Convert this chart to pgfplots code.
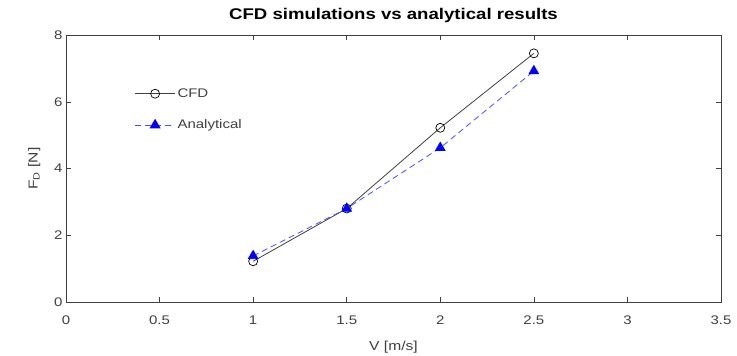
\documentclass[border=0pt]{standalone}
\usepackage{pgfplots}
\pgfplotsset{compat=1.18}
\usepackage{fontspec}
\setmainfont[FakeStretch=1.2]{Liberation Sans}
\definecolor{axgray}{gray}{0.25}
\definecolor{mblue}{rgb}{0,0,1}
\begin{document}
\begin{tikzpicture}
\begin{axis}[
  scale only axis,
  width=655pt, height=267pt,
  xmin=0, xmax=3.5, ymin=0, ymax=8,
  xtick={0,0.5,...,3.5},
  ytick={0,2,4,6,8},
  xticklabels={0,0.5,1,1.5,2,2.5,3,3.5},
  tick align=inside,
  major tick length=5pt,
  axis line style={axgray, line width=0.7pt},
  tick style={axgray, line width=0.5pt},
  ticklabel style={font=\fontsize{12.5}{14}\selectfont, text=axgray},
  xticklabel style={yshift=-10pt},
  /pgf/number format/assume math mode=true,
  xlabel={V [m/s]},
  ylabel={F\textsubscript{D} [N]},
  xlabel style={font=\fontsize{13}{15}\selectfont, text=axgray, yshift=-10pt},
  ylabel style={font=\fontsize{13}{15}\selectfont, text=axgray, yshift=7pt},
  title={\textbf{CFD simulations vs analytical results}},
  title style={font=\fontsize{15.5}{17}\selectfont, yshift=3pt},
  legend style={draw=none, fill=none, at={(0.1,0.815)}, anchor=north west,
    font=\fontsize{12.5}{14}\selectfont, text=axgray, row sep=17pt},
  legend cell align=left,
  legend image code/.code={\draw[mark repeat=2,mark phase=2,#1] plot coordinates {(0pt,0pt) (20pt,0pt) (40pt,0pt)};},
]
\addplot[black!75, line width=0.8pt, mark=o, mark size=4.5pt, mark options={solid, black, line width=0.7pt}]
  coordinates {(1,1.22) (1.5,2.8) (2,5.22) (2.5,7.45)};
\addlegendentry{CFD}
\addplot[mblue!70, dash pattern=on 6pt off 4pt, line width=0.8pt, mark=triangle*, mark size=5.5pt, mark options={solid, fill=mblue, draw=mblue}]
  coordinates {(1,1.38) (1.5,2.8) (2,4.62) (2.5,6.92)};
\addlegendentry{Analytical}
\end{axis}
\pgfresetboundingbox
\path[use as bounding box] (current axis.south west) ++(-66pt,-54pt) rectangle ++(737pt,356pt);
\end{tikzpicture}
\end{document}
